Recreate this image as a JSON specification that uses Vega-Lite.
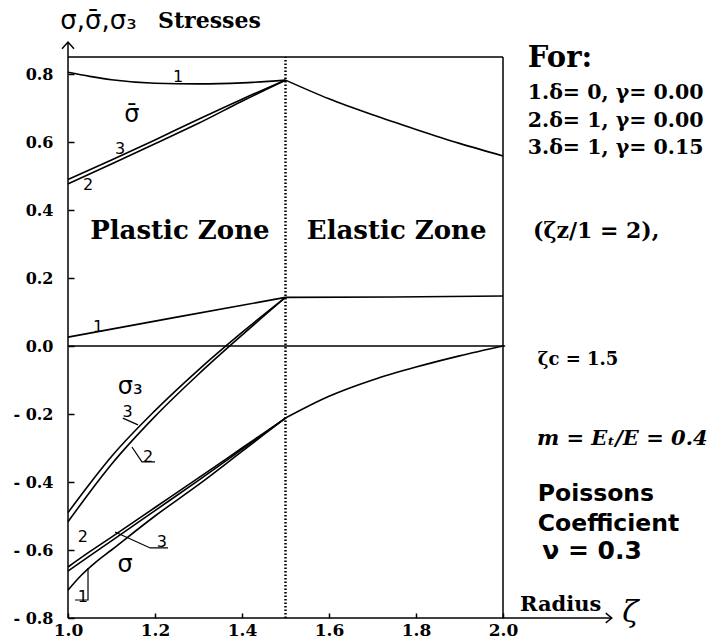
{
  "$schema": "https://vega.github.io/schema/vega-lite/v6.json",
  "width": 435,
  "height": 561,
  "autosize": "none",
  "padding": {"left": 68, "top": 57, "right": 206, "bottom": 26},
  "background": "white",
  "config": {"view": {"stroke": null}, "axis": {"grid": false}},
  "layer": [
    {
      "data": {"values": [
        {"s": "sbar_1", "x": 1.0, "y": 0.805}, {"s": "sbar_1", "x": 1.05, "y": 0.793}, {"s": "sbar_1", "x": 1.1, "y": 0.783}, {"s": "sbar_1", "x": 1.2, "y": 0.773}, {"s": "sbar_1", "x": 1.3, "y": 0.771}, {"s": "sbar_1", "x": 1.4, "y": 0.774}, {"s": "sbar_1", "x": 1.5, "y": 0.782},
        {"s": "sbar_2", "x": 1.0, "y": 0.477}, {"s": "sbar_2", "x": 1.1, "y": 0.535}, {"s": "sbar_2", "x": 1.2, "y": 0.595}, {"s": "sbar_2", "x": 1.3, "y": 0.655}, {"s": "sbar_2", "x": 1.4, "y": 0.72}, {"s": "sbar_2", "x": 1.5, "y": 0.782},
        {"s": "sbar_3", "x": 1.0, "y": 0.49}, {"s": "sbar_3", "x": 1.1, "y": 0.547}, {"s": "sbar_3", "x": 1.2, "y": 0.606}, {"s": "sbar_3", "x": 1.3, "y": 0.667}, {"s": "sbar_3", "x": 1.4, "y": 0.726}, {"s": "sbar_3", "x": 1.5, "y": 0.782},
        {"s": "sbar_e", "x": 1.5, "y": 0.782}, {"s": "sbar_e", "x": 1.6, "y": 0.727}, {"s": "sbar_e", "x": 1.7, "y": 0.68}, {"s": "sbar_e", "x": 1.8, "y": 0.637}, {"s": "sbar_e", "x": 1.9, "y": 0.596}, {"s": "sbar_e", "x": 2.0, "y": 0.559},
        {"s": "s3_1", "x": 1.0, "y": 0.026}, {"s": "s3_1", "x": 1.25, "y": 0.085}, {"s": "s3_1", "x": 1.5, "y": 0.143},
        {"s": "s3_2", "x": 1.0, "y": -0.517}, {"s": "s3_2", "x": 1.05, "y": -0.43}, {"s": "s3_2", "x": 1.1, "y": -0.348}, {"s": "s3_2", "x": 1.2, "y": -0.207}, {"s": "s3_2", "x": 1.3, "y": -0.083}, {"s": "s3_2", "x": 1.4, "y": 0.032}, {"s": "s3_2", "x": 1.5, "y": 0.143},
        {"s": "s3_3", "x": 1.0, "y": -0.49}, {"s": "s3_3", "x": 1.05, "y": -0.405}, {"s": "s3_3", "x": 1.1, "y": -0.325}, {"s": "s3_3", "x": 1.2, "y": -0.19}, {"s": "s3_3", "x": 1.3, "y": -0.07}, {"s": "s3_3", "x": 1.4, "y": 0.04}, {"s": "s3_3", "x": 1.5, "y": 0.143},
        {"s": "s3_e", "x": 1.5, "y": 0.143}, {"s": "s3_e", "x": 1.75, "y": 0.144}, {"s": "s3_e", "x": 2.0, "y": 0.147},
        {"s": "s_1", "x": 1.0, "y": -0.718}, {"s": "s_1", "x": 1.03, "y": -0.675}, {"s": "s_1", "x": 1.06, "y": -0.64}, {"s": "s_1", "x": 1.1, "y": -0.6}, {"s": "s_1", "x": 1.2, "y": -0.5}, {"s": "s_1", "x": 1.3, "y": -0.408}, {"s": "s_1", "x": 1.4, "y": -0.31}, {"s": "s_1", "x": 1.5, "y": -0.212},
        {"s": "s_2", "x": 1.0, "y": -0.65}, {"s": "s_2", "x": 1.05, "y": -0.605}, {"s": "s_2", "x": 1.1, "y": -0.562}, {"s": "s_2", "x": 1.2, "y": -0.475}, {"s": "s_2", "x": 1.3, "y": -0.388}, {"s": "s_2", "x": 1.4, "y": -0.3}, {"s": "s_2", "x": 1.5, "y": -0.212},
        {"s": "s_3", "x": 1.0, "y": -0.662}, {"s": "s_3", "x": 1.05, "y": -0.617}, {"s": "s_3", "x": 1.1, "y": -0.573}, {"s": "s_3", "x": 1.2, "y": -0.484}, {"s": "s_3", "x": 1.3, "y": -0.395}, {"s": "s_3", "x": 1.4, "y": -0.304}, {"s": "s_3", "x": 1.5, "y": -0.212},
        {"s": "s_e", "x": 1.5, "y": -0.212}, {"s": "s_e", "x": 1.6, "y": -0.148}, {"s": "s_e", "x": 1.7, "y": -0.1}, {"s": "s_e", "x": 1.8, "y": -0.062}, {"s": "s_e", "x": 1.9, "y": -0.029}, {"s": "s_e", "x": 2.0, "y": 0.0}
      ]},
      "mark": {"type": "line", "color": "black", "strokeWidth": 1.6, "interpolate": "monotone"},
      "encoding": {
        "x": {"field": "x", "type": "quantitative", "scale": {"domain": [1, 2], "nice": false, "zero": false},
              "axis": {"title": null, "values": [1, 1.2, 1.4, 1.6, 1.8, 2], "format": ".1f", "domain": false, "labelFlush": false,
                       "tickSize": -5, "tickColor": "black", "tickWidth": 1.5, "labelPadding": 9,
                       "labelFont": "DejaVu Serif", "labelFontWeight": "bold", "labelFontSize": 17, "labelColor": "black"}},
        "y": {"field": "y", "type": "quantitative", "scale": {"domain": [-0.8, 0.85], "nice": false, "zero": false},
              "axis": {"title": null, "values": [-0.8, -0.6, -0.4, -0.2, 0, 0.2, 0.4, 0.6, 0.8], "domain": false, "labelFlush": false,
                       "labelExpr": "datum.value < 0 ? '- ' + format(-datum.value, '.1f') : format(datum.value, '.1f')",
                       "tickSize": -6, "tickColor": "black", "tickWidth": 1.5, "labelPadding": 21,
                       "labelFont": "DejaVu Serif", "labelFontWeight": "bold", "labelFontSize": 16, "labelColor": "black"}},
        "detail": {"field": "s"}
      }
    },
    {
      "data": {"values": [
        {"s": "lead_s3a", "i": 0, "x": 1.126, "y": -0.212}, {"s": "lead_s3a", "i": 1, "x": 1.161, "y": -0.232},
        {"s": "lead_s3b", "i": 0, "x": 1.147, "y": -0.297}, {"s": "lead_s3b", "i": 1, "x": 1.17, "y": -0.341}, {"s": "lead_s3b", "i": 2, "x": 1.2, "y": -0.341},
        {"s": "lead_s", "i": 0, "x": 1.108, "y": -0.547}, {"s": "lead_s", "i": 1, "x": 1.189, "y": -0.594}, {"s": "lead_s", "i": 2, "x": 1.23, "y": -0.594},
        {"s": "lead_s1", "i": 0, "x": 1.016, "y": -0.747}, {"s": "lead_s1", "i": 1, "x": 1.046, "y": -0.747}, {"s": "lead_s1", "i": 2, "x": 1.046, "y": -0.653}
      ]},
      "mark": {"type": "line", "color": "black", "strokeWidth": 1.2},
      "encoding": {
        "x": {"field": "x", "type": "quantitative", "title": null},
        "y": {"field": "y", "type": "quantitative", "title": null},
        "detail": {"field": "s"},
        "order": {"field": "i"}
      }
    },
    {
      "data": {"values": [
        {"x": 1.0, "x2": 2.25, "y": -0.8},
        {"x": 1.0, "x2": 2.0, "y": 0.85},
        {"x": 1.0, "x2": 2.005, "y": 0.0}
      ]},
      "mark": {"type": "rule", "color": "black", "strokeWidth": 1.5},
      "encoding": {
        "x": {"field": "x", "type": "quantitative", "title": null},
        "x2": {"field": "x2"},
        "y": {"field": "y", "type": "quantitative", "title": null}
      }
    },
    {
      "data": {"values": [
        {"x": 1.0, "y": -0.8, "y2": 0.894},
        {"x": 2.0, "y": -0.8, "y2": 0.85}
      ]},
      "mark": {"type": "rule", "color": "black", "strokeWidth": 1.5},
      "encoding": {
        "x": {"field": "x", "type": "quantitative", "title": null},
        "y": {"field": "y", "type": "quantitative", "title": null},
        "y2": {"field": "y2"}
      }
    },
    {
      "data": {"values": [{"x": 1.5, "y": -0.8, "y2": 0.85}]},
      "mark": {"type": "rule", "color": "black", "strokeWidth": 2.5, "strokeDash": [1.5, 2]},
      "encoding": {
        "x": {"field": "x", "type": "quantitative", "title": null},
        "y": {"field": "y", "type": "quantitative", "title": null},
        "y2": {"field": "y2"}
      }
    },
    {
      "data": {"values": [{"x": 1.0, "y": 0.894}]},
      "mark": {"type": "point", "shape": "M-1,1.1L0,0L1,1.1", "filled": false, "stroke": "black", "strokeWidth": 1.5, "size": 144, "opacity": 1},
      "encoding": {
        "x": {"field": "x", "type": "quantitative", "title": null},
        "y": {"field": "y", "type": "quantitative", "title": null}
      }
    },
    {
      "data": {"values": [{"x": 2.25, "y": -0.8}]},
      "mark": {"type": "point", "shape": "M-1,-0.8L0,0L-1,0.8", "filled": false, "stroke": "black", "strokeWidth": 1.5, "size": 144, "opacity": 1},
      "encoding": {
        "x": {"field": "x", "type": "quantitative", "title": null},
        "y": {"field": "y", "type": "quantitative", "title": null}
      }
    },
    {
      "data": {"values": [
        {"x": 1.253, "y": 0.791, "t": "1"}, {"x": 1.12, "y": 0.579, "t": "3"}, {"x": 1.046, "y": 0.474, "t": "2"},
        {"x": 1.069, "y": 0.056, "t": "1"}, {"x": 1.137, "y": -0.195, "t": "3"}, {"x": 1.184, "y": -0.326, "t": "2"},
        {"x": 1.034, "y": -0.562, "t": "2"}, {"x": 1.216, "y": -0.576, "t": "3"}, {"x": 1.034, "y": -0.738, "t": "1"}
      ]},
      "mark": {"type": "text", "font": "DejaVu Sans", "fontSize": 16, "color": "black", "align": "center", "baseline": "middle"},
      "encoding": {
        "x": {"field": "x", "type": "quantitative", "title": null},
        "y": {"field": "y", "type": "quantitative", "title": null},
        "text": {"field": "t"}
      }
    },
    {
      "data": {"values": [
        {"x": 1.147, "y": 0.679, "t": "σ̄"}, {"x": 1.143, "y": -0.122, "t": "σ₃"}, {"x": 1.131, "y": -0.644, "t": "σ"}
      ]},
      "mark": {"type": "text", "font": "DejaVu Sans", "fontSize": 24, "color": "black", "align": "center", "baseline": "middle"},
      "encoding": {
        "x": {"field": "x", "type": "quantitative", "title": null},
        "y": {"field": "y", "type": "quantitative", "title": null},
        "text": {"field": "t"}
      }
    },
    {
      "data": {"values": [{"x": 0.982, "y": 0.956, "t": "σ,σ̄,σ₃"}]},
      "mark": {"type": "text", "font": "DejaVu Sans", "fontSize": 26, "color": "black", "align": "left", "baseline": "middle"},
      "encoding": {
        "x": {"field": "x", "type": "quantitative", "title": null},
        "y": {"field": "y", "type": "quantitative", "title": null},
        "text": {"field": "t"}
      }
    },
    {
      "data": {"values": [{"x": 1.207, "y": 0.956, "t": "Stresses"}]},
      "mark": {"type": "text", "font": "DejaVu Serif", "fontWeight": "bold", "fontSize": 22, "color": "black", "align": "left", "baseline": "middle"},
      "encoding": {
        "x": {"field": "x", "type": "quantitative", "title": null},
        "y": {"field": "y", "type": "quantitative", "title": null},
        "text": {"field": "t"}
      }
    },
    {
      "data": {"values": [{"x": 2.069, "y": 0.338, "t": "(ζz/1 = 2),"}]},
      "mark": {"type": "text", "font": "DejaVu Serif", "fontWeight": "bold", "fontSize": 22, "color": "black", "align": "left", "baseline": "middle"},
      "encoding": {
        "x": {"field": "x", "type": "quantitative", "title": null},
        "y": {"field": "y", "type": "quantitative", "title": null},
        "text": {"field": "t"}
      }
    },
    {
      "data": {"values": [{"x": 2.057, "y": 0.847, "t": "For:"}]},
      "mark": {"type": "text", "font": "DejaVu Serif", "fontWeight": "bold", "fontSize": 29, "color": "black", "align": "left", "baseline": "middle"},
      "encoding": {
        "x": {"field": "x", "type": "quantitative", "title": null},
        "y": {"field": "y", "type": "quantitative", "title": null},
        "text": {"field": "t"}
      }
    },
    {
      "data": {"values": [
        {"x": 2.057, "y": 0.744, "t": "1.δ= 0, γ= 0.00"},
        {"x": 2.057, "y": 0.662, "t": "2.δ= 1, γ= 0.00"},
        {"x": 2.057, "y": 0.582, "t": "3.δ= 1, γ= 0.15"}
      ]},
      "mark": {"type": "text", "font": "DejaVu Serif", "fontWeight": "bold", "fontSize": 20.5, "color": "black", "align": "left", "baseline": "middle"},
      "encoding": {
        "x": {"field": "x", "type": "quantitative", "title": null},
        "y": {"field": "y", "type": "quantitative", "title": null},
        "text": {"field": "t"}
      }
    },
    {
      "data": {"values": [{"x": 1.051, "y": 0.338, "t": "Plastic Zone"}, {"x": 1.549, "y": 0.338, "t": "Elastic Zone"}]},
      "mark": {"type": "text", "font": "DejaVu Serif", "fontWeight": "bold", "fontSize": 26, "color": "black", "align": "left", "baseline": "middle"},
      "encoding": {
        "x": {"field": "x", "type": "quantitative", "title": null},
        "y": {"field": "y", "type": "quantitative", "title": null},
        "text": {"field": "t"}
      }
    },
    {
      "data": {"values": [{"x": 2.08, "y": -0.041, "t": "ζc = 1.5"}]},
      "mark": {"type": "text", "font": "DejaVu Serif", "fontWeight": "bold", "fontSize": 18, "color": "black", "align": "left", "baseline": "middle"},
      "encoding": {
        "x": {"field": "x", "type": "quantitative", "title": null},
        "y": {"field": "y", "type": "quantitative", "title": null},
        "text": {"field": "t"}
      }
    },
    {
      "data": {"values": [{"x": 2.078, "y": -0.274, "t": "m = Eₜ/E = 0.4"}]},
      "mark": {"type": "text", "font": "DejaVu Serif", "fontWeight": "bold", "fontStyle": "italic", "fontSize": 21, "color": "black", "align": "left", "baseline": "middle"},
      "encoding": {
        "x": {"field": "x", "type": "quantitative", "title": null},
        "y": {"field": "y", "type": "quantitative", "title": null},
        "text": {"field": "t"}
      }
    },
    {
      "data": {"values": [{"x": 2.08, "y": -0.435, "t": "Poissons"}, {"x": 2.08, "y": -0.524, "t": "Coefficient"}]},
      "mark": {"type": "text", "font": "DejaVu Sans", "fontWeight": "bold", "fontSize": 23.5, "color": "black", "align": "left", "baseline": "middle"},
      "encoding": {
        "x": {"field": "x", "type": "quantitative", "title": null},
        "y": {"field": "y", "type": "quantitative", "title": null},
        "text": {"field": "t"}
      }
    },
    {
      "data": {"values": [{"x": 2.09, "y": -0.603, "t": "ν = 0.3"}]},
      "mark": {"type": "text", "font": "DejaVu Sans", "fontWeight": "bold", "fontSize": 25, "color": "black", "align": "left", "baseline": "middle"},
      "encoding": {
        "x": {"field": "x", "type": "quantitative", "title": null},
        "y": {"field": "y", "type": "quantitative", "title": null},
        "text": {"field": "t"}
      }
    },
    {
      "data": {"values": [{"x": 2.039, "y": -0.762, "t": "Radius"}]},
      "mark": {"type": "text", "font": "DejaVu Serif", "fontWeight": "bold", "fontSize": 21, "color": "black", "align": "left", "baseline": "middle"},
      "encoding": {
        "x": {"field": "x", "type": "quantitative", "title": null},
        "y": {"field": "y", "type": "quantitative", "title": null},
        "text": {"field": "t"}
      }
    },
    {
      "data": {"values": [{"x": 2.274, "y": -0.785, "t": "ζ"}]},
      "mark": {"type": "text", "font": "DejaVu Serif", "fontStyle": "italic", "fontSize": 30, "color": "black", "align": "left", "baseline": "middle"},
      "encoding": {
        "x": {"field": "x", "type": "quantitative", "title": null},
        "y": {"field": "y", "type": "quantitative", "title": null},
        "text": {"field": "t"}
      }
    }
  ]
}
